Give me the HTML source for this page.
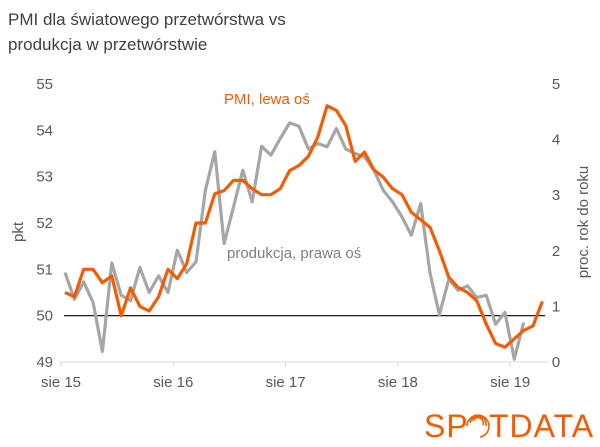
<!DOCTYPE html>
<html><head><meta charset="utf-8"><style>
body{margin:0;background:#fff;width:600px;height:442px;overflow:hidden;font-family:"Liberation Sans",sans-serif}
</style></head><body>
<svg width="600" height="442" xmlns="http://www.w3.org/2000/svg" font-family="Liberation Sans, sans-serif">
<text x="8" y="25" font-size="17" fill="#404040">PMI dla światowego przetwórstwa vs</text>
<text x="8" y="50" font-size="17" fill="#404040">produkcja w przetwórstwie</text>
<g id="leftTicks"></g><g id="rightTicks"></g><g id="xTicks"></g>
<line x1="61" x2="548" y1="362" y2="362" stroke="#d9d9d9" stroke-width="1"/>
<line id="refline" x1="64" x2="545" stroke="#000" stroke-width="1.2"/>
<path id="grayLine" fill="none" stroke="#a6a6a6" stroke-width="3.2" stroke-linejoin="round"/>
<path id="orangeLine" fill="none" stroke="#f25c05" stroke-width="3.2" stroke-linejoin="round"/>
<text x="224" y="104" font-size="15" fill="#f25c05">PMI, lewa oś</text>
<text x="227" y="258" font-size="15" fill="#7f7f7f">produkcja, prawa oś</text>
<text transform="translate(23,232) rotate(-90)" font-size="15" fill="#595959" text-anchor="middle">pkt</text>
<text transform="translate(588,222) rotate(-90)" font-size="15" fill="#595959" text-anchor="middle">proc. rok do roku</text>
<g>
<text x="424" y="437" font-size="32" fill="#f25c05" letter-spacing="1">SP</text>
<g fill="none" stroke="#f25c05" stroke-width="1.6">
<path d="M467 426 A11 11 0 1 1 480 437"/><path d="M470 423 A8 8 0 0 1 486 426"/><path d="M473 421 A5 5 0 0 1 483 425"/>
</g>
<text x="489" y="437" font-size="32" fill="#f25c05" letter-spacing="1">TDATA</text>
</g>
</svg>
<script>
const pmi=[50.5,50.41,51.0,51.0,50.71,50.86,50.0,50.6,50.2,50.1,50.41,51.0,50.8,51.12,52.0,52.0,52.63,52.7,52.92,52.92,52.74,52.61,52.61,52.74,53.13,53.24,53.44,53.85,54.53,54.43,54.1,53.33,53.53,53.15,52.99,52.74,52.61,52.23,52.07,51.91,51.4,50.83,50.61,50.5,50.32,49.82,49.4,49.32,49.5,49.68,49.78,50.31];
const production=[1.61,1.13,1.44,1.07,0.19,1.78,1.2,1.1,1.7,1.25,1.55,1.25,2.01,1.61,1.8,3.09,3.78,2.13,2.79,3.45,2.88,3.88,3.72,4.02,4.3,4.24,3.83,3.93,3.87,4.2,3.83,3.75,3.69,3.45,3.09,2.88,2.61,2.28,2.85,1.6,0.85,1.49,1.29,1.37,1.16,1.2,0.68,0.89,0.05,0.71];
const leftTickLabels=["49","50","51","52","53","54","55"];
const rightTickLabels=["0","1","2","3","4","5"];
const xTickLabels=["sie 15","sie 16","sie 17","sie 18","sie 19"];
const NS="http://www.w3.org/2000/svg";
const xAt=i=>65+9.36*i;
const yL=v=>362-(v-49)*(278/6);
const yR=v=>362-v*(278/5);
const xTick=k=>61+112.3*k;
function path(arr,yf){return arr.map((v,i)=>(i?"L":"M")+xAt(i).toFixed(1)+" "+yf(v).toFixed(1)).join(" ");}
document.getElementById('orangeLine').setAttribute('d',path(pmi,yL));
document.getElementById('grayLine').setAttribute('d',path(production,yR));
const rl=document.getElementById('refline');rl.setAttribute('y1',yL(50));rl.setAttribute('y2',yL(50));
function txt(g,x,y,s,anchor){const t=document.createElementNS(NS,'text');t.setAttribute('x',x);t.setAttribute('y',y);t.setAttribute('font-size','15');t.setAttribute('fill','#595959');t.setAttribute('text-anchor',anchor);t.textContent=s;g.appendChild(t);return t;}
const lg=document.getElementById('leftTicks');
leftTickLabels.forEach(s=>{const t=txt(lg,53,yL(+s)+5,s,'end');

});
const rg=document.getElementById('rightTicks');
rightTickLabels.forEach(s=>{const t=txt(rg,556,yR(+s)+5,s,'middle');

});
const xg=document.getElementById('xTicks');
xTickLabels.forEach((s,k)=>{const t=txt(xg,xTick(k),387,s,'middle');


const l=document.createElementNS(NS,'line');l.setAttribute('x1',xTick(k));l.setAttribute('x2',xTick(k));l.setAttribute('y1',362);l.setAttribute('y2',367);l.setAttribute('stroke','#d9d9d9');


xg.appendChild(l);});
</script>
</body></html>
